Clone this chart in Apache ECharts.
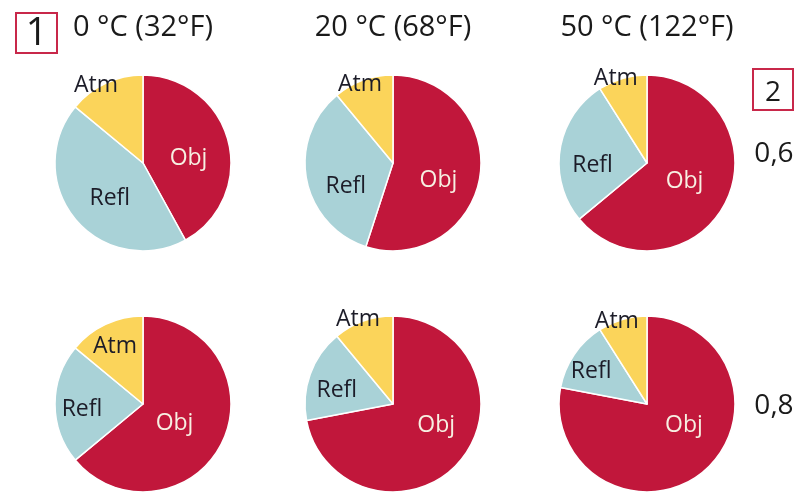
<!DOCTYPE html>
<html>
<head>
<meta charset="utf-8">
<script src="https://cdn.jsdelivr.net/npm/echarts@6/dist/echarts.min.js"></script>
<style>
html,body{margin:0;padding:0;background:#ffffff;}
#chart{width:806px;height:493px;}
</style>
</head>
<body>
<div id="chart"></div>
<script>
// ---- data ----
const temperatures = ['0 °C (32°F)', '20 °C (68°F)', '50 °C (122°F)'];
const emissivities = ['0,6', '0,8'];
const sources = ['Obj', 'Refl', 'Atm'];
// emissivity 0,6 (top row), percent share per temperature
const obj06 = [42, 55, 64];
const refl06 = [44, 34, 27];
const atm06 = [14, 11, 9];
// emissivity 0,8 (bottom row)
const obj08 = [64, 72, 78];
const refl08 = [22, 17, 13];
const atm08 = [14, 11, 9];

// ---- layout / style ----
const colX = [143, 393, 647];
const rowY = [163, 404];
const emisLabelTop = [138, 390];
const R = 88;
const colors = { Obj: '#c1173b', Refl: '#a9d2d7', Atm: '#fbd45a' };
const textColors = { Obj: '#f7f0e2', Refl: '#1c1c28', Atm: '#1c1c28' };
// label nudges [row][col][source] relative to library's inside position
const nudge = [
  [ { Obj: [0, 7],  Refl: [3, 5],   Atm: [-27, -35] },
    { Obj: [-1, 10], Refl: [-1, 15], Atm: [-17, -34] },
    { Obj: [-5, -2], Refl: [-8, 10], Atm: [-18, -39] } ],
  [ { Obj: [-11, -1], Refl: [-14, 5], Atm: [-8, -15] },
    { Obj: [7, -9], Refl: [-12, 2], Atm: [-19, -40] },
    { Obj: [7, -15], Refl: [-17, -6], Atm: [-17, -37] } ]
];
const FONT = '"Open Sans", "Noto Sans", sans-serif';

const rows = [
  { Obj: obj06, Refl: refl06, Atm: atm06 },
  { Obj: obj08, Refl: refl08, Atm: atm08 }
];

const series = [];
rows.forEach((row, r) => {
  temperatures.forEach((t, c) => {
    series.push({
      type: 'pie',
      center: [colX[c], rowY[r]],
      radius: R,
      startAngle: 90,
      clockwise: true,
      silent: true,
      animation: false,
      itemStyle: { borderColor: '#ffffff', borderWidth: 1.5 },
      emphasis: { disabled: true },
      labelLine: { show: false },
      data: sources.map(s => ({
        name: s,
        value: row[s][c],
        itemStyle: { color: colors[s] },
        label: {
          show: true,
          position: 'inside',
          formatter: '{b}',
          color: textColors[s],
          fontFamily: FONT,
          fontSize: 23,
          offset: nudge[r][c][s]
        }
      }))
    });
  });
});

const titles = temperatures.map((t, c) => ({
  text: t,
  left: colX[c],
  top: 12,
  textAlign: 'center',
  padding: 0,
  textStyle: { fontFamily: FONT, fontSize: 29, fontWeight: 'normal', color: '#1a1a1a', lineHeight: 32 }
}));
emissivities.forEach((e, r) => {
  titles.push({
    text: e,
    left: 774,
    top: emisLabelTop[r],
    textAlign: 'center',
    padding: 0,
    textStyle: { fontFamily: FONT, fontSize: 28, fontWeight: 'normal', color: '#1a1a1a', lineHeight: 32 }
  });
});

const chart = echarts.init(document.getElementById('chart'), null, { renderer: 'canvas' });
chart.setOption({
  backgroundColor: '#ffffff',
  animation: false,
  title: titles,
  graphic: [
    { type: 'rect', x: 16, y: 13, shape: { width: 41, height: 40 },
      style: { fill: 'none', stroke: '#c8284a', lineWidth: 2 } },
    { type: 'text', x: 36.5, y: 34, style: { text: '1', font: '38px ' + FONT, fill: '#1a1a1a', align: 'center', verticalAlign: 'middle' } },
    { type: 'rect', x: 753, y: 69, shape: { width: 40, height: 41 },
      style: { fill: 'none', stroke: '#c8284a', lineWidth: 2 } },
    { type: 'text', x: 773, y: 93, style: { text: '2', font: '28px ' + FONT, fill: '#1a1a1a', align: 'center', verticalAlign: 'middle' } }
  ],
  series: series
});
</script>
</body>
</html>
